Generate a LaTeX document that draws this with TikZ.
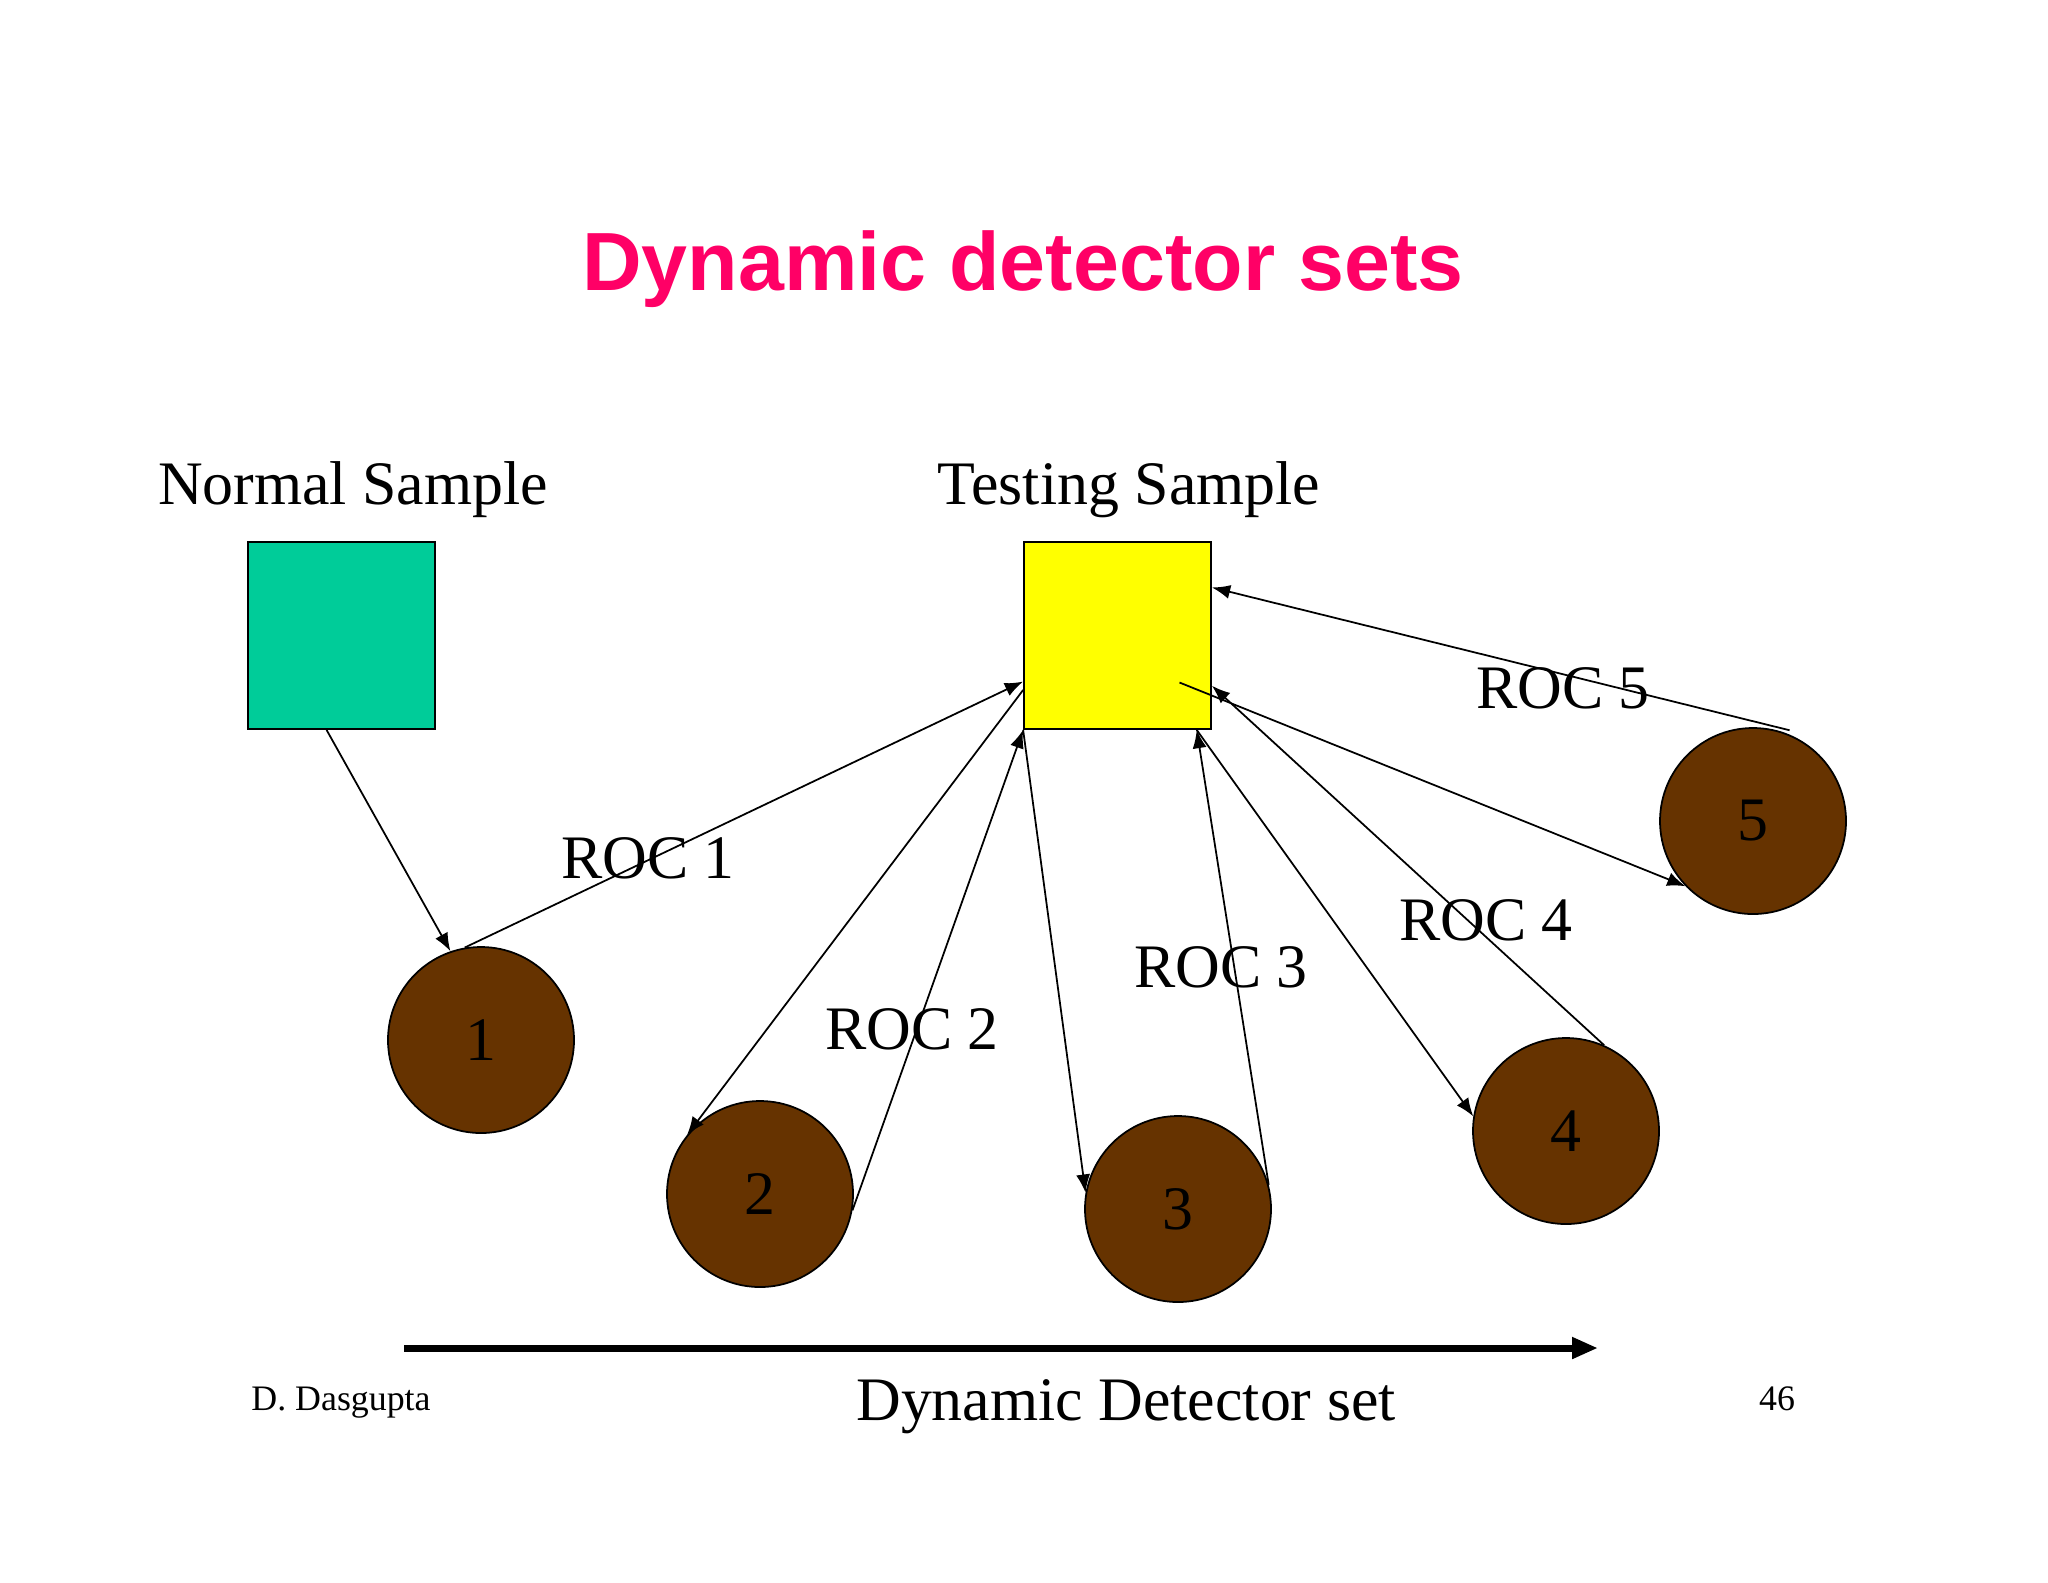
\documentclass[tikz,border=0pt]{standalone}
\usepackage{fontspec}
\setmainfont{Liberation Serif}
\newfontfamily\titlefont{Liberation Sans}
\usetikzlibrary{arrows.meta}
\definecolor{titlepink}{HTML}{FF0066}
\definecolor{normalgreen}{HTML}{00CC99}
\definecolor{testyellow}{HTML}{FFFF00}
\definecolor{detbrown}{HTML}{663300}
\tikzset{
    sample/.style={draw, line width=0.5pt, minimum size=18.7mm, inner sep=0pt},
    det/.style={circle, draw, fill=detbrown, line width=0.5pt, minimum size=18.6mm, inner sep=0pt, font=\fontsize{17.6}{20}\selectfont},
    lbl/.style={anchor=base, font=\fontsize{17.6}{20}\selectfont},
    roc/.style={-{Latex[length=5.2pt,width=4pt]}, line width=0.5pt}
}
\begin{document}
\begin{tikzpicture}[x=0.1mm, y=-0.1mm]
    \useasboundingbox (0,0) rectangle (2048,1582);
    \node[anchor=base, text=titlepink, font=\titlefont\bfseries\fontsize{23.5}{28}\selectfont] (title) at (1023,290) {Dynamic detector sets};

    % samples
    \node[lbl] (nslbl) at (353,504) {Normal Sample};
    \node[lbl] (tslbl) at (1129,504) {Testing Sample};
    \node[sample, fill=normalgreen] (ns) at (341.5,635.5) {};
    \node[sample, fill=testyellow] (ts) at (1117.5,635.5) {};

    % detector sets
    \foreach \n/\x/\y in {1/481/1040, 2/760/1194, 3/1178/1209, 4/1566/1131, 5/1753/821} {
        \node[det] (c\n) at (\x,\y) {\n};
    }
    \coordinate (tsin) at ([shift={(62,47)}]ts.center);
    \coordinate (c5top) at ([shift={(6,-2)}]c5.71);

    \draw[roc] (ns.-99) -- (c1.109);
    \foreach \a/\b in {c1.100/ts.206, ts.210/c2.141, c2.-10/ts.south west, ts.south west/c3.170,
                       c3.15/ts.-50, ts.-50/c4.171, c4.66/ts.-28, tsin/c5.-136, c5top/ts.27} {
        \draw[roc] (\a) -- (\b);
    }

    \node[lbl] (roc1) at (648,878) {ROC 1};
    \node[lbl] (roc2) at (912,1049) {ROC 2};
    \node[lbl] (roc3) at (1221,987) {ROC 3};
    \node[lbl] (roc4) at (1486,940) {ROC 4};
    \node[lbl] (roc5) at (1563,708) {ROC 5};

    % time axis
    \coordinate (axs) at (404,1348);
    \coordinate (axe) at (1598,1348);
    \draw[line width=2pt, -{Triangle[length=7.4pt,width=5.8pt]}] (axs) -- (axe);
    \node[lbl] (axlbl) at (1126,1420) {Dynamic Detector set};
    \node[anchor=base, font=\fontsize{10.2}{12}\selectfont] (author) at (341,1410) {D. Dasgupta};
    \node[anchor=base, font=\fontsize{10.2}{12}\selectfont] (page) at (1777,1410) {46};
\end{tikzpicture}
\end{document}
